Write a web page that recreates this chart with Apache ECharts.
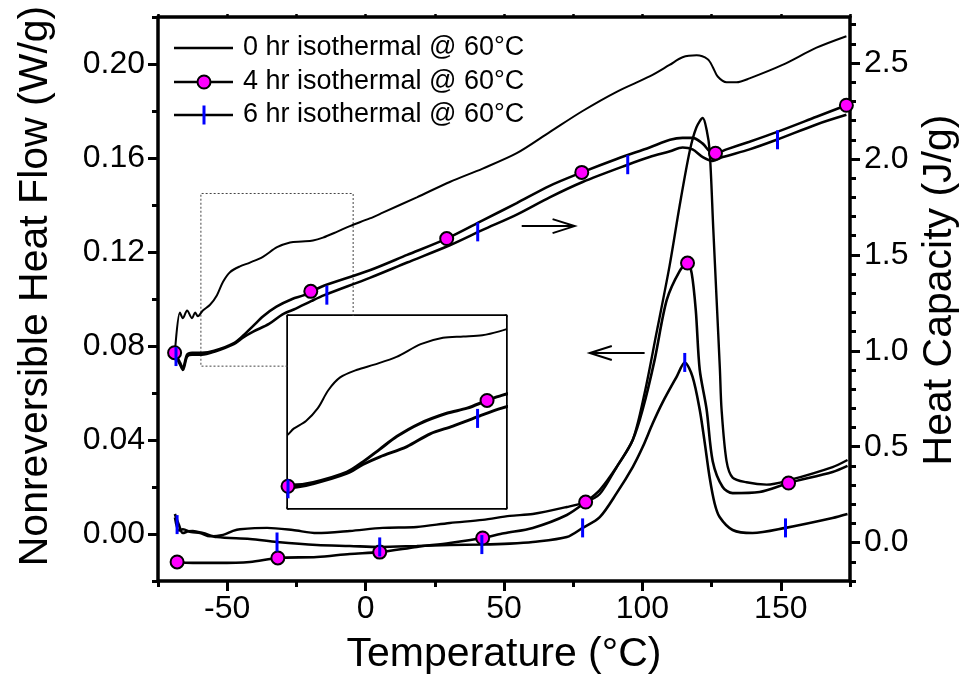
<!DOCTYPE html>
<html>
<head>
<meta charset="utf-8">
<script src="https://cdn.jsdelivr.net/npm/echarts@6/dist/echarts.min.js"></script>
<style>
  html, body { margin: 0; padding: 0; background: #fff; }
  #main { width: 971px; height: 682px; }
</style>
</head>
<body>
<div id="main"></div>
<script>
// series names (legend)
const seriesNames = ['0 hr isothermal @ 60°C', '4 hr isothermal @ 60°C', '6 hr isothermal @ 60°C']

// heat capacity, J/g  [temperature °C, Cp]
const cp0hr = [[-68.9, 0.99], [-67.1, 1.2], [-66, 1.17], [-64.5, 1.21], [-62.7, 1.17], [-61.6, 1.2], [-60.6, 1.18],
  [-58.8, 1.21], [-56.2, 1.24], [-53.7, 1.29], [-51.5, 1.36], [-49, 1.41], [-45.4, 1.44], [-41.8, 1.46],
  [-37.1, 1.49], [-32, 1.54], [-27.3, 1.565], [-23, 1.57], [-19, 1.575], [-15.4, 1.59], [-10.4, 1.62], [-5.7, 1.65],
  [1.5, 1.69], [6.2, 1.72], [18.5, 1.8], [30.4, 1.88], [42.3, 1.95], [54.6, 2.03], [66.5, 2.14],
  [78.4, 2.25], [90.7, 2.35], [102.6, 2.43], [109.8, 2.49], [114.5, 2.53], [119.6, 2.54], [123.6, 2.52],
  [125.4, 2.48], [127.2, 2.43], [130.4, 2.4], [134, 2.4], [138.7, 2.42], [150.6, 2.49], [162.9, 2.58], [173.7, 2.64]]
const cp4hr = [[-68.9, 0.99], [-67.1, 0.94], [-66, 0.91], [-64.5, 0.98], [-62.7, 0.99], [-59.2, 0.99], [-54.7, 1.0],
  [-47.6, 1.04], [-44.2, 1.08], [-40.6, 1.13], [-37, 1.18], [-32.2, 1.23], [-26.5, 1.27], [-22.2, 1.29],
  [-18, 1.32], [-14.9, 1.34], [1.5, 1.42], [15, 1.5], [29.3, 1.585], [42.3, 1.68], [54.6, 1.77], [66.5, 1.86],
  [78.1, 1.93], [90.7, 2.0], [102.6, 2.06], [110, 2.1], [114.5, 2.11], [118.1, 2.11], [121.8, 2.08],
  [124.3, 2.04], [126.4, 2.03], [130.4, 2.05], [138.7, 2.09], [148.5, 2.14], [162.9, 2.22], [173.7, 2.28]]
const cp6hr = [[-68.9, 0.98], [-67.1, 0.93], [-66, 0.9], [-64.5, 0.97], [-62.7, 0.98], [-59.2, 0.98], [-54.7, 0.995],
  [-47.6, 1.035], [-44.2, 1.07], [-40.6, 1.1], [-34.9, 1.14], [-30, 1.19], [-25.2, 1.22], [-19.5, 1.26],
  [-14.9, 1.29], [1.5, 1.38], [15, 1.46], [30.4, 1.55], [42.3, 1.63], [54.6, 1.71], [66.5, 1.8], [78.4, 1.88],
  [94.7, 1.97], [102.6, 2.01], [110, 2.04], [114.5, 2.06], [118.1, 2.05], [121.8, 2.01], [125.4, 1.99],
  [129, 2.01], [138.7, 2.05], [148.5, 2.1], [162.9, 2.18], [173.7, 2.23]]

// nonreversible heat flow, W/g  [temperature °C, HF]
const hf0hr = [[-68.9, 0.007], [-67.5, 0.0015], [-66, 0.002], [-63, 0.0008], [-59.8, 0.0004], [-56.2, -0.001],
  [-51.5, -0.0004], [-47.9, 0.0013], [-45.4, 0.002], [-35.6, 0.0026], [-26.3, 0.0017], [-17.6, 0.0004],
  [-5.7, 0.0013], [6.2, 0.0026], [18.5, 0.003], [30.4, 0.0047], [42.3, 0.006], [52.1, 0.0077], [60.4, 0.0085],
  [72.7, 0.0115], [79.5, 0.0136], [84.6, 0.017], [90.7, 0.0285], [96.5, 0.04], [100.8, 0.06], [105, 0.085],
  [109.8, 0.114], [113.5, 0.14], [117.1, 0.163], [119.5, 0.173], [121.8, 0.177], [123.2, 0.172], [124.3, 0.163],
  [125.6, 0.13], [126.8, 0.1], [128, 0.07], [128.6, 0.053], [130.4, 0.031], [132.6, 0.024], [137.6, 0.022],
  [144.9, 0.021], [153.2, 0.023], [168.7, 0.0285], [174.1, 0.0315]]
const hf4hr = [[-68.9, -0.0115], [-68.1, -0.0119], [-62.4, -0.0123], [-53.7, -0.0123], [-41.8, -0.0119],
  [-31.7, -0.0102], [-17.6, -0.0098], [-5.7, -0.0085], [5.1, -0.0077], [18.5, -0.0055], [30.4, -0.0038],
  [42.3, -0.0017], [50, 0.0003], [60.4, 0.0026], [72.7, 0.0081], [79.5, 0.0136], [84.6, 0.0187], [90.7, 0.0285],
  [96.5, 0.04], [100.1, 0.053], [104.4, 0.074], [108.8, 0.0996], [113.5, 0.112], [116.3, 0.1153],
  [117.8, 0.111], [119.3, 0.095], [120.7, 0.07], [123.2, 0.053], [125.4, 0.031], [129, 0.02], [132.6, 0.0174],
  [142.3, 0.0179], [152.8, 0.0217], [168.7, 0.0264], [174.1, 0.029]]
const hf6hr = [[-68.9, 0.0085], [-67.5, 0.004], [-66, 0.0004], [-64, 0.0012], [-62.4, 0.0013], [-58.8, 0.0004],
  [-53.7, -0.0013], [-41.8, -0.0021], [-32, -0.0034], [-17.6, -0.0047], [-5.7, -0.0051], [5.1, -0.0055],
  [18.5, -0.0051], [30.4, -0.0047], [42, -0.0045], [52.1, -0.0041], [60.4, -0.0034], [72.7, -0.0013],
  [78.4, 0.0026], [84.6, 0.0072], [90.7, 0.0174], [96.5, 0.0285], [100.1, 0.037], [103.7, 0.047],
  [107.3, 0.056], [112.4, 0.067], [115.3, 0.073], [118.1, 0.067], [120.7, 0.053], [122.5, 0.039],
  [124.3, 0.024], [126.1, 0.013], [127.9, 0.0072], [132.6, 0.0017], [139.8, 0.0004], [151.7, 0.0026],
  [168.7, 0.0068], [174.1, 0.0085]]

// symbol positions along the curves
const cp4hrMarks = [[-69, 0.99], [-19.8, 1.31], [29.3, 1.585], [78.1, 1.93], [126.4, 2.03], [173.7, 2.28]]
const cp6hrMarks = [[-68.5, 0.97], [-14, 1.29], [40.5, 1.62], [94.7, 1.97], [148.8, 2.1]]
const hf4hrMarks = [[-68.1, -0.0119], [-31.7, -0.0102], [5.1, -0.0077], [42.3, -0.0017], [79.5, 0.0136],
  [116.3, 0.1153], [152.8, 0.0217]]
const hf6hrMarks = [[-68.1, 0.004], [-32, -0.0034], [5.1, -0.0055], [42, -0.0045], [78.4, 0.0026],
  [115.3, 0.073], [151.7, 0.0026]]
const insetCp4hrMarks = [[-60, 0.985], [-18, 1.32]]
const insetCp6hrMarks = [[-60, 0.975], [-20, 1.25]]

// ticks
const tempTicks = [-50, 0, 50, 100, 150]
const tempMinorTicks = [-75, -25, 25, 75, 125, 175]
const hfTicks = [0, 0.04, 0.08, 0.12, 0.16, 0.2]
const hfMinorTicks = [-0.02, 0.02, 0.06, 0.1, 0.14, 0.18, 0.22]
const cpTicks = [0, 0.5, 1, 1.5, 2, 2.5]
const cpMinorTicks = [-0.2, -0.1, 0.1, 0.2, 0.3, 0.4, 0.6, 0.7, 0.8, 0.9, 1.1, 1.2, 1.3, 1.4, 1.6, 1.7, 1.8, 1.9,
  2.1, 2.2, 2.3, 2.4, 2.6, 2.7]
const insetCpTicks = [1, 1.25, 1.5]

const FONT = 'Liberation Sans, Arial, Helvetica, sans-serif'
const BLACK = '#000'
const MAGENTA = '#ff00ff'
const BLUE = '#0000ff'

const spine = { show: true, onZero: false, lineStyle: { color: BLACK, width: 3.5 } }
const insetSpine = { show: true, onZero: false, lineStyle: { color: BLACK, width: 3.5 } }
const noLabel = { show: false }

function lineSeries (data, x, y, width) {
  return {
    type: 'line', xAxisIndex: x, yAxisIndex: y, data: data,
    showSymbol: false, symbol: 'none', smooth: 0.3,
    lineStyle: { color: BLACK, width: width }, clip: true, silent: true
  }
}
function circleSeries (data, x, y) {
  return {
    type: 'scatter', xAxisIndex: x, yAxisIndex: y, data: data, symbol: 'circle', symbolSize: 13, z: 5,
    itemStyle: { color: MAGENTA, borderColor: BLACK, borderWidth: 2, opacity: 1 }
  }
}
function barSeries (data, x, y) {
  return {
    type: 'scatter', xAxisIndex: x, yAxisIndex: y, data: data, symbol: 'rect', symbolSize: [3, 19], z: 6,
    itemStyle: { color: BLUE, opacity: 1 }
  }
}

const option = {
  animation: false,
  backgroundColor: '#fff',
  textStyle: { fontFamily: FONT },
  grid: [
    { left: 158, top: 17, right: 121, bottom: 101 },
    { left: 288, top: 316, width: 218, height: 192, show: true, backgroundColor: '#fff', borderWidth: 0, z: 3 }
  ],
  xAxis: [
    {
      gridIndex: 0, type: 'value', position: 'bottom', min: -75, max: 175,
      axisLine: spine,
      axisTick: { customValues: tempTicks, length: 10, lineStyle: { color: BLACK, width: 3 } },
      axisLabel: { customValues: tempTicks, fontSize: 32, color: BLACK, margin: 12, fontFamily: FONT },
      splitLine: { show: false },
      name: 'Temperature (°C)', nameLocation: 'middle', nameGap: 53,
      nameTextStyle: { fontSize: 41, color: BLACK, fontFamily: FONT }
    },
    {
      gridIndex: 0, type: 'value', position: 'bottom', min: -75, max: 175,
      axisLine: { show: false, onZero: false },
      axisTick: { customValues: tempMinorTicks, length: 6, lineStyle: { color: BLACK, width: 3 } },
      axisLabel: noLabel, splitLine: { show: false }
    },
    {
      gridIndex: 0, type: 'value', position: 'top', min: -75, max: 175, interval: 25,
      axisLine: spine,
      axisTick: { length: 3, lineStyle: { color: BLACK, width: 2.5 } },
      axisLabel: noLabel, splitLine: { show: false }
    },
    {
      gridIndex: 1, type: 'value', position: 'bottom', min: -60, max: -14, interval: 5,
      axisLine: insetSpine,
      axisTick: { inside: true, length: 4, lineStyle: { color: BLACK, width: 2 } },
      axisLabel: noLabel, splitLine: { show: false }
    },
    {
      gridIndex: 1, type: 'value', position: 'top', min: -60, max: -14, interval: 5,
      axisLine: insetSpine,
      axisTick: { inside: true, length: 4, lineStyle: { color: BLACK, width: 2 } },
      axisLabel: noLabel, splitLine: { show: false }
    }
  ],
  yAxis: [
    {
      gridIndex: 0, type: 'value', position: 'left', min: -0.02, max: 0.22,
      axisLine: spine,
      axisTick: { customValues: hfTicks, length: 10, lineStyle: { color: BLACK, width: 3 } },
      axisLabel: {
        customValues: hfTicks, fontSize: 32, color: BLACK, margin: 13, fontFamily: FONT,
        formatter: v => v.toFixed(2)
      },
      splitLine: { show: false },
      name: 'Nonreversible Heat Flow (W/g)', nameLocation: 'middle', nameGap: 102, nameRotate: 90,
      nameTextStyle: { fontSize: 41, color: BLACK, fontFamily: FONT, padding: [0, 0, 0, 26] }
    },
    {
      gridIndex: 0, type: 'value', position: 'left', min: -0.02, max: 0.22,
      axisLine: { show: false, onZero: false },
      axisTick: { customValues: hfMinorTicks, length: 6, lineStyle: { color: BLACK, width: 3 } },
      axisLabel: noLabel, splitLine: { show: false }
    },
    {
      gridIndex: 0, type: 'value', position: 'right', min: -0.2, max: 2.74,
      axisLine: spine,
      axisTick: { customValues: cpTicks, length: 10, lineStyle: { color: BLACK, width: 3 } },
      axisLabel: {
        customValues: cpTicks, fontSize: 32, color: BLACK, margin: 14, fontFamily: FONT,
        formatter: v => v.toFixed(1)
      },
      splitLine: { show: false },
      name: 'Heat Capacity (J/g)', nameLocation: 'middle', nameGap: 64, nameRotate: 90,
      nameTextStyle: { fontSize: 41, color: BLACK, fontFamily: FONT, padding: [0, 0, 0, 18] }
    },
    {
      gridIndex: 0, type: 'value', position: 'right', min: -0.2, max: 2.74,
      axisLine: { show: false, onZero: false },
      axisTick: { customValues: cpMinorTicks, length: 6, lineStyle: { color: BLACK, width: 3 } },
      axisLabel: noLabel, splitLine: { show: false }
    },
    {
      gridIndex: 1, type: 'value', position: 'left', min: 0.9, max: 1.65,
      axisLine: insetSpine,
      axisTick: { customValues: insetCpTicks, inside: true, length: 4, lineStyle: { color: BLACK, width: 2 } },
      axisLabel: noLabel, splitLine: { show: false }
    },
    {
      gridIndex: 1, type: 'value', position: 'right', min: 0.9, max: 1.65,
      axisLine: insetSpine,
      axisTick: { customValues: insetCpTicks, inside: true, length: 4, lineStyle: { color: BLACK, width: 2 } },
      axisLabel: noLabel, splitLine: { show: false }
    }
  ],
  series: [
    lineSeries(cp0hr, 0, 2, 2),
    lineSeries(cp4hr, 0, 2, 2.6),
    lineSeries(cp6hr, 0, 2, 2.6),
    lineSeries(hf0hr, 0, 0, 2.4),
    lineSeries(hf4hr, 0, 0, 2.6),
    lineSeries(hf6hr, 0, 0, 2.6),
    circleSeries(cp4hrMarks, 0, 2),
    barSeries(cp6hrMarks, 0, 2),
    circleSeries(hf4hrMarks, 0, 0),
    barSeries(hf6hrMarks, 0, 0),
    lineSeries(cp0hr, 3, 4, 2),
    lineSeries(cp4hr, 3, 4, 3),
    lineSeries(cp6hr, 3, 4, 3),
    circleSeries(insetCp4hrMarks, 3, 4),
    barSeries(insetCp6hrMarks, 3, 4)
  ]
}

const chart = echarts.init(document.getElementById('main'), null, { renderer: 'canvas' })
chart.setOption(option)

// annotations: zoom box, arrows, legend
const px = (idx, p) => chart.convertToPixel({ seriesIndex: idx }, p)
const boxA = px(0, [-59.5, 1.82])
const boxB = px(0, [-4.5, 0.92])
const inset = px(10, [-60, 1.65])
const arrowR = [px(0, [56.4, 1.65]), px(0, [75.5, 1.65])]
const arrowL = [px(3, [100.8, 0.077]), px(3, [81, 0.077])]

const graphics = [
  {
    type: 'polyline', z: 1, silent: true,
    shape: { points: [[boxB[0], inset[1]], [boxB[0], boxA[1]], [boxA[0], boxA[1]], [boxA[0], boxB[1]], [inset[0], boxB[1]]] },
    style: { stroke: '#444', lineWidth: 1, lineDash: [2, 2], fill: null }
  },
  {
    type: 'polyline', z: 10, silent: true,
    shape: { points: [arrowR[0], arrowR[1]] }, style: { stroke: BLACK, lineWidth: 2 }
  },
  {
    type: 'polyline', z: 10, silent: true,
    shape: { points: [[arrowR[1][0] - 22, arrowR[1][1] - 7], arrowR[1], [arrowR[1][0] - 22, arrowR[1][1] + 7]] },
    style: { stroke: BLACK, lineWidth: 2, fill: null }
  },
  {
    type: 'polyline', z: 10, silent: true,
    shape: { points: [arrowL[0], arrowL[1]] }, style: { stroke: BLACK, lineWidth: 2 }
  },
  {
    type: 'polyline', z: 10, silent: true,
    shape: { points: [[arrowL[1][0] + 22, arrowL[1][1] - 7], arrowL[1], [arrowL[1][0] + 22, arrowL[1][1] + 7]] },
    style: { stroke: BLACK, lineWidth: 2, fill: null }
  }
]

const legendRows = [48, 82, 115]
seriesNames.forEach((name, i) => {
  const y = legendRows[i]
  graphics.push({
    type: 'line', z: 10, silent: true,
    shape: { x1: 174, y1: y, x2: 233, y2: y }, style: { stroke: BLACK, lineWidth: 2.5 }
  })
  if (i === 1) {
    graphics.push({
      type: 'circle', z: 11, silent: true,
      shape: { cx: 204, cy: y, r: 6.5 }, style: { fill: MAGENTA, stroke: BLACK, lineWidth: 2 }
    })
  }
  if (i === 2) {
    graphics.push({
      type: 'rect', z: 11, silent: true,
      shape: { x: 202.5, y: y - 9.5, width: 3, height: 19 }, style: { fill: BLUE }
    })
  }
  graphics.push({
    type: 'text', z: 11, silent: true, x: 243, y: y,
    style: { text: name, fontSize: 27, fontFamily: FONT, fill: BLACK, verticalAlign: 'middle', align: 'left' }
  })
})

chart.setOption({ graphic: graphics })
</script>
</body>
</html>
